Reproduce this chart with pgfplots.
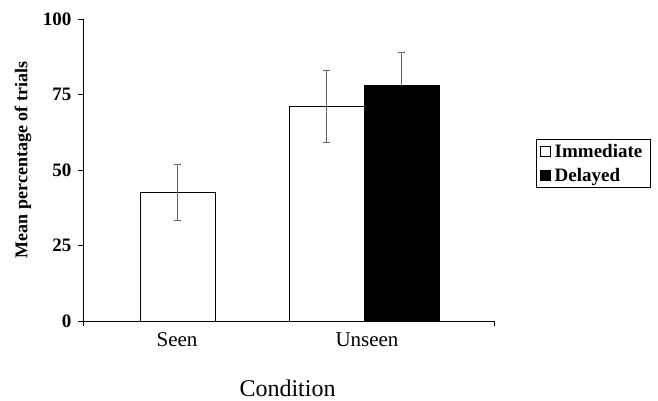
\documentclass[border=0pt]{standalone}
\usepackage{fontspec}
\setmainfont{Liberation Serif}
\usepackage{pgfplots}
\pgfplotsset{compat=1.18}
\begin{document}
\begin{tikzpicture}
\path[use as bounding box] (0bp,0bp) rectangle (658bp,401bp);
\begin{axis}[
  at={(83bp,80bp)}, anchor=south west,
  scale only axis, width=411bp, height=302bp,
  xmin=83, xmax=494, ymin=0, ymax=100,
  axis lines*=left,
  axis line style={black, line width=0.7pt},
  /pgf/number format/assume math mode=true,
  ytick={0,25,50,75,100},
  yticklabel style={font=\fontsize{19bp}{21bp}\selectfont\bfseries, xshift=-3bp},
  ytick style={black, line width=0.7pt},
  tick align=outside,
  major tick length=5bp,
  xtick={177,367},
  xticklabels={Seen,Unseen},
  xticklabel style={font=\fontsize{21bp}{23bp}\selectfont, yshift=-3bp},
  x tick style={draw=none},
  extra x ticks={83,494},
  extra x tick labels={},
  extra x tick style={x tick style={draw=black, line width=0.7pt}},
  every axis y label/.style={at={(axis description cs:-0.146,0.533)}, rotate=90, anchor=center},
  ylabel={Mean percentage of trials},
  ylabel style={font=\fontsize{18bp}{20bp}\selectfont\bfseries},
  every axis x label/.style={at={(axis description cs:0.4976,-0.250)}, anchor=base},
  xlabel={Condition},
  xlabel style={font=\fontsize{24bp}{26bp}\selectfont},
  legend style={at={(axis description cs:1.102,0.603)}, anchor=north west,
    draw=black, line width=0.6pt, font=\fontsize{19bp}{21bp}\selectfont\bfseries,
    inner xsep=4bp, inner ysep=3bp, row sep=5bp,
    nodes={inner xsep=4bp}},
  legend cell align=left,
  legend image code/.code={\draw[#1, line width=0.5pt] (2bp,-5bp) rectangle (12bp,5bp);},
  clip=false,
]
\addplot[ybar, bar width=75bp, bar shift=0pt, fill=white, draw=black, line width=0.7pt,
  error bars/.cd, y dir=both, y explicit,
  error bar style={color=black!60, line width=0.8pt},
  error mark options={rotate=90, mark size=3.5bp, color=black!60, line width=0.8pt}]
  coordinates {(177.5,42.6) +- (0,9.2) (326.5,71.1) +- (0,12.0)};
\addlegendentry{Immediate}
\addplot[ybar, bar width=75bp, bar shift=0pt, fill=black, draw=black, line width=0.7pt,
  error bars/.cd, y dir=plus, y explicit,
  error bar style={color=black!60, line width=0.8pt},
  error mark options={rotate=90, mark size=3.5bp, color=black!60, line width=0.8pt}]
  coordinates {(401.5,77.9) +- (0,10.9)};
\addlegendentry{Delayed}
\end{axis}
\end{tikzpicture}
\end{document}
